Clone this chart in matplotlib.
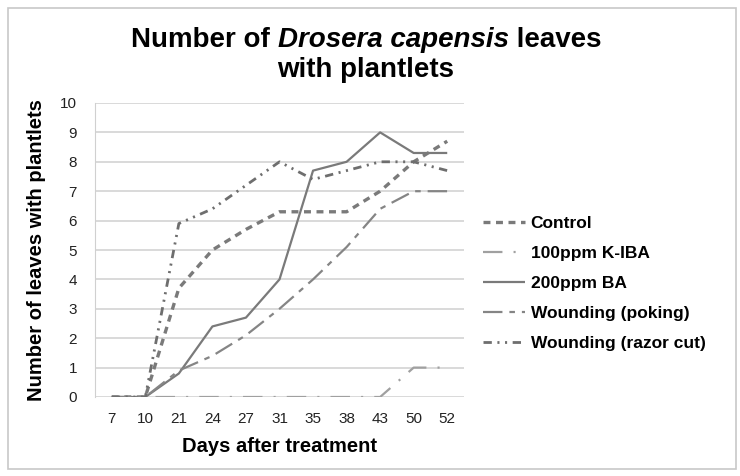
import matplotlib
matplotlib.use("Agg")
import matplotlib.pyplot as plt
from matplotlib.patches import Rectangle

plt.rcParams['font.family'] = ['Liberation Sans', 'DejaVu Sans']
plt.rcParams['lines.scale_dashes'] = False

days = ["7", "10", "21", "24", "27", "31", "35", "38", "43", "50", "52"]
control = [0, 0, 3.7, 5.0, 5.7, 6.3, 6.3, 6.3, 7.0, 8.0, 8.7]
kiba = [0, 0, 0, 0, 0, 0, 0, 0, 0, 1.0, 1.0]
ba = [0, 0, 0.8, 2.4, 2.7, 4.0, 7.7, 8.0, 9.0, 8.3, 8.3]
poking = [0, 0, 0.9, 1.4, 2.1, 3.0, 4.0, 5.1, 6.4, 7.0, 7.0]
razor = [0, 0, 5.9, 6.4, 7.2, 8.0, 7.4, 7.7, 8.0, 8.0, 7.7]
labels = ["Control", "100ppm K-IBA", "200ppm BA", "Wounding (poking)", "Wounding (razor cut)"]

W, H = 740, 476
fig = plt.figure(figsize=(W / 100, H / 100), dpi=100)
fig.patch.set_facecolor("white")
fig.patches.append(Rectangle((8 / W, 7 / H), 728 / W, 461 / H, transform=fig.transFigure,
                             fill=False, edgecolor="#c8c8c8", linewidth=1.2))

ax = fig.add_axes([95 / W, 1 - 397 / H, (464 - 95) / W, (397 - 103) / H])
x = list(range(len(days)))

styles = [
    dict(color="#7a7a7a", lw=2.4, dashes=(5, 4)),
    dict(color="#a0a0a0", lw=1.6, dashes=(14, 8, 1.5, 8)),
    dict(color="#7a7a7a", lw=1.6, linestyle="-"),
    dict(color="#858585", lw=1.6, dashes=(14, 5, 4, 5)),
    dict(color="#6e6e6e", lw=2.0, dashes=(6, 4, 1.5, 4, 1.5, 4)),
]
series = [control, kiba, ba, poking, razor]
for vals, lab, st in zip(series, labels, styles):
    ax.plot(x, vals, label=lab, solid_capstyle="butt", dash_capstyle="butt", **st)

ax.set_xlim(-0.5, len(days) - 0.5)
ax.set_ylim(0, 10)
ax.set_yticks(range(0, 11))
ax.set_xticks(x)
ax.set_xticklabels(days)
ax.yaxis.grid(True, color="#d9d9d9", linewidth=1.4)
ax.set_axisbelow(True)
for s in ["top", "right", "bottom"]:
    ax.spines[s].set_visible(False)
ax.spines["left"].set_color("#d0d0d0")
ax.tick_params(axis="both", length=0, labelsize=11, colors="#222222")
ax.tick_params(axis="y", pad=13)
ax.tick_params(axis="x", pad=11)

ax.set_xlabel("Days after treatment", fontsize=14.5, fontweight="bold", labelpad=8)
ax.set_ylabel("Number of leaves with plantlets", fontsize=14.5, fontweight="bold", labelpad=10)

leg = fig.legend(loc="upper left", bbox_to_anchor=(483 / W, 1 - 216 / H), frameon=False,
                 fontsize=12.5, handlelength=2.4, handletextpad=0.35, labelspacing=0.86,
                 borderpad=0, borderaxespad=0)
for t in leg.get_texts():
    t.set_fontweight("bold")

# title with italic species name
fig.canvas.draw()
r = fig.canvas.get_renderer()
tsize = 20
parts = [("Number of ", "normal"), ("Drosera capensis", "italic"), (" leaves", "normal")]
texts = []
for s, style in parts:
    t = fig.text(0, 1 - 40 / H, s, fontsize=tsize, fontweight="bold", fontstyle=style,
                 ha="left", va="center")
    texts.append(t)
widths = [t.get_window_extent(r).width for t in texts]
total = sum(widths)
cx = 366
xpos = cx - total / 2
for t, w in zip(texts, widths):
    t.set_x(xpos / W)
    xpos += w
fig.text(cx / W, 1 - 70 / H, "with plantlets", fontsize=tsize, fontweight="bold",
         ha="center", va="center")

fig.savefig("out.png", dpi=100, facecolor="white")
